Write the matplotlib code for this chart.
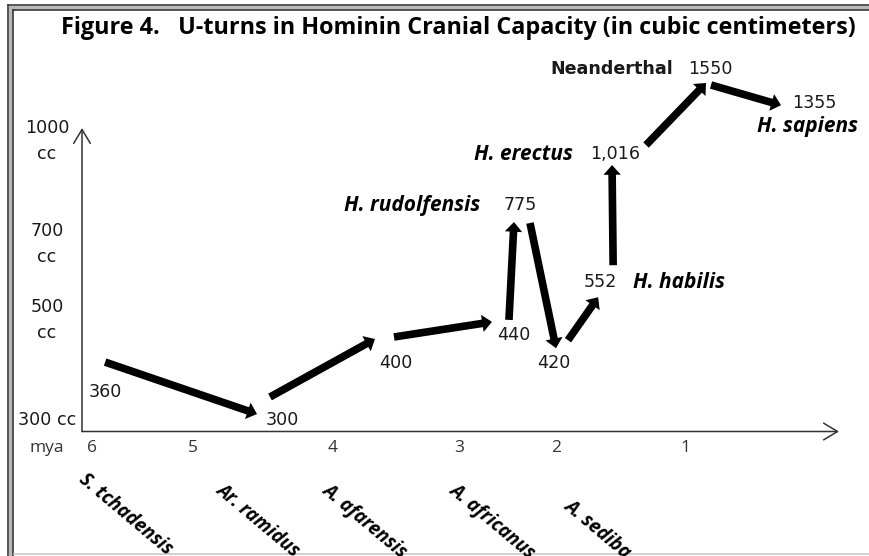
import numpy as np
import matplotlib
matplotlib.use("Agg")
import matplotlib.pyplot as plt
from matplotlib.patches import ConnectionPatch
from matplotlib.transforms import offset_copy, blended_transform_factory
from matplotlib.lines import Line2D

# ---------------- data ----------------
species = ["S. tchadensis", "Ar. ramidus", "A. afarensis", "A. africanus",
           "H. rudolfensis", "A. sediba", "H. habilis", "H. erectus",
           "Neanderthal", "H. sapiens"]
mya = [5.87, 4.36, 3.5, 2.45, 2.4, 2.0, 1.65, 1.53, 0.83, 0.14]
cranial_cc = [360, 300, 400, 440, 775, 420, 552, 1016, 1550, 1355]
value_labels = ["360", "300", "400", "440", "775", "420", "552", "1,016", "1550", "1355"]

mya_ticks = [6, 5, 4, 3, 2, 1]
cc_ticks = [300, 500, 700, 1000]
cc_tick_labels = ["300 cc", "500", "700", "1000"]
bottom_species = ["S. tchadensis", "Ar. ramidus", "A. afarensis", "A. africanus", "A. sediba"]
title = "Figure 4.   U-turns in Hominin Cranial Capacity (in cubic centimeters)"

# ---------------- layout ----------------
W, H = 870, 556
DPI = 100
# schematic (piecewise linear) scales: value anchors -> pixel anchors
X_ANCHOR_MYA = np.array([0, 1, 2, 3, 4, 5, 6], float)
X_ANCHOR_PX = np.array([835, 685, 556, 459, 333, 193, 92], float)
Y_ANCHOR_CC = np.array([300, 500, 700, 1000, 1550], float)
Y_ANCHOR_PX = H - np.array([420, 307, 231, 157, 69], float)


def _pw(v, xp, fp):
    v = np.asarray(v, dtype=float)
    out = np.interp(v, xp, fp)
    lo = (fp[1] - fp[0]) / (xp[1] - xp[0])
    hi = (fp[-1] - fp[-2]) / (xp[-1] - xp[-2])
    out = np.where(v < xp[0], fp[0] + (v - xp[0]) * lo, out)
    out = np.where(v > xp[-1], fp[-1] + (v - xp[-1]) * hi, out)
    return out


# increasing forward transform for x (mya); the axis is then inverted
XR_PX = W - X_ANCHOR_PX          # increasing with mya


def x_fwd(v):
    return _pw(v, X_ANCHOR_MYA, XR_PX)


def x_inv(p):
    return _pw(p, XR_PX, X_ANCHOR_MYA)


def y_fwd(v):
    return _pw(v, Y_ANCHOR_CC, Y_ANCHOR_PX)


def y_inv(p):
    return _pw(p, Y_ANCHOR_PX, Y_ANCHOR_CC)


# offsets in image pixels (dx right, dy down)
value_offsets = {0: (0, 6), 3: (1.5, -6), 4: (3, -7.5), 5: (-2, 11), 6: (-1, -5),
                 7: (-1.5, 0), 9: (0, 3)}
name_layout = {4: (-37, -7.5, "right"), 6: (32, -5, "left"), 7: (-44, 0, "right"),
               8: (-37, 0, "right"), 9: (-6, 26, "center")}
name_bold_plain = {8}
arrow_offsets = [
    ((0, -24), (-25.6, -6)),
    ((-12.6, -23), (-21, -24.5)),
    ((-2, -26.5), (-20.4, -19)),
    ((-3.4, -21), (-3.2, 9.5)),
    ((12.8, 10.5), (0, -4)),
    ((12, -12), (-3, 10)),
    ((12, -22), (-4.6, 10.6)),
    ((29.4, -9.4), (-4.5, 14)),
    ((0.5, 16), (-33, 5)),
]
tick_nudge = {1000: -29}
bottom_label_px = [(88, 470), (225, 480), (331, 480), (458, 480), (573, 496)]

NUM_FONT = "DejaVu Sans"
CAL_FONT = "Open Sans"
NUM_SIZE = 12.6

fig = plt.figure(figsize=(W / DPI, H / DPI), dpi=DPI)
fig.patch.set_facecolor("white")
ax = fig.add_axes([0, 0, 1, 1])
ax.set_xscale("function", functions=(x_fwd, x_inv))
ax.set_yscale("function", functions=(y_fwd, y_inv))
ax.set_xlim(float(x_inv(W)), float(x_inv(0)))   # larger mya on the left
ax.set_ylim(float(y_inv(0)), float(y_inv(H)))
ax.axis("off")


def fx(px):
    return px / W


def fy(py):
    return 1 - py / H


def off(dx, dy):
    return offset_copy(ax.transData, fig=fig, x=dx, y=-dy, units="dots")


# border
band = "#b8b8b8"
dark = "#3a3a3a"
fig.add_artist(Line2D([fx(11), fx(11)], [fy(7.5), 0], color=band, lw=3.0))
fig.add_artist(Line2D([fx(11), 1], [fy(7.5), fy(7.5)], color=band, lw=3.0))
fig.add_artist(Line2D([fx(8.5), fx(8.5)], [fy(5), 0], color=dark, lw=1.2))
fig.add_artist(Line2D([fx(8.5), 1], [fy(5), fy(5)], color=dark, lw=1.2))
fig.add_artist(Line2D([fx(13.5), fx(13.5)], [fy(10), 0], color=dark, lw=1.2))
fig.add_artist(Line2D([fx(13.5), 1], [fy(10), fy(10)], color=dark, lw=1.2))
fig.add_artist(Line2D([fx(14), 1], [fy(554), fy(554)], color="#c8c8c8", lw=1.2))

# title
fig.text(fx(458), fy(28), title, ha="center", va="center", fontsize=16.8,
         fontweight="bold", family=CAL_FONT, color="black")

# axis arrows
axprops = dict(arrowstyle="->,head_length=1.0,head_width=0.6", lw=1.1,
               color="#333333", shrinkA=0, shrinkB=0)
ax.annotate("", xy=(fx(82), fy(128)), xytext=(fx(82), fy(431.5)),
            xycoords="figure fraction", textcoords="figure fraction", arrowprops=axprops)
ax.annotate("", xy=(fx(839), fy(431.5)), xytext=(fx(82), fy(431.5)),
            xycoords="figure fraction", textcoords="figure fraction", arrowprops=axprops)

# y tick labels
ytr = blended_transform_factory(fig.transFigure, ax.transData)
for v, lab in zip(cc_ticks, cc_tick_labels):
    nud = tick_nudge.get(v, 0)
    t = offset_copy(ytr, fig=fig, x=0, y=-nud, units="dots")
    ax.text(fx(47), v, lab, transform=t, ha="center", va="center",
            fontsize=NUM_SIZE, family=NUM_FONT, color="#1a1a1a")
    if "cc" not in lab:
        t2 = offset_copy(ytr, fig=fig, x=0, y=-(nud + 26), units="dots")
        ax.text(fx(47), v, "cc", transform=t2, ha="center", va="center",
                fontsize=NUM_SIZE, family=NUM_FONT, color="#1a1a1a")

# x tick labels
xtr = blended_transform_factory(ax.transData, fig.transFigure)
for m in mya_ticks:
    ax.text(m, fy(448), str(m), transform=xtr, ha="center", va="center",
            fontsize=12.5, family=CAL_FONT, color="#333333")
fig.text(fx(47), fy(448), "mya", ha="center", va="center", fontsize=12.5,
         family=CAL_FONT, color="#333333")

# bottom species labels
for name, (px, py) in zip(bottom_species, bottom_label_px):
    fig.text(fx(px), fy(py), name, ha="left", va="top", rotation=-40,
             rotation_mode="anchor", fontsize=13.5, fontweight="bold",
             fontstyle="italic", family=CAL_FONT, color="black")

# value labels
for i, (m, c, lab) in enumerate(zip(mya, cranial_cc, value_labels)):
    dx, dy = value_offsets.get(i, (0, 0))
    ax.text(m, c, lab, transform=off(dx, dy), ha="center", va="center",
            fontsize=NUM_SIZE, family=NUM_FONT, color="#1a1a1a")

# species name labels
for i, (dx, dy, ha) in name_layout.items():
    if i in name_bold_plain:
        ax.text(mya[i], cranial_cc[i], species[i], transform=off(dx, dy), ha=ha,
                va="center", fontsize=NUM_SIZE, fontweight="bold", family=NUM_FONT,
                color="#1a1a1a")
    else:
        ax.text(mya[i], cranial_cc[i], species[i], transform=off(dx, dy), ha=ha,
                va="center", fontsize=15, fontweight="bold", fontstyle="italic",
                family=CAL_FONT, color="black")

# arrows between successive species
for k in range(len(species) - 1):
    (sx, sy), (ex, ey) = arrow_offsets[k]
    con = ConnectionPatch(xyA=(mya[k], cranial_cc[k]), coordsA=off(sx, sy),
                          xyB=(mya[k + 1], cranial_cc[k + 1]), coordsB=off(ex, ey),
                          arrowstyle="simple,head_length=0.7,head_width=1.25,tail_width=0.55",
                          mutation_scale=10, shrinkA=0, shrinkB=0,
                          color="black", lw=0)
    ax.add_artist(con)

fig.savefig("out.png", dpi=DPI, facecolor="white")
